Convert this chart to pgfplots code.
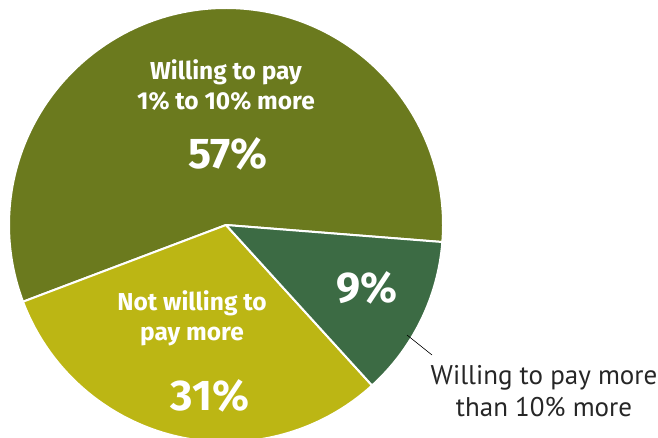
\documentclass[border=0pt]{standalone}
\usepackage{pgfplots}
\pgfplotsset{compat=1.18}
\usepackage{fontspec}
\setmainfont{Fira Sans}
\setsansfont{Fira Sans}
\newfontfamily\calloutfont{PT Sans}

\definecolor{olivec}{HTML}{6B7A1E}
\definecolor{yellowc}{HTML}{BCB614}
\definecolor{greenc}{HTML}{3C6B44}

% plotted shares (the small slice is drawn as the remainder, 100-57-31)
\def\slices{57/olivec, 31/yellowc, 12/greenc}

\begin{document}
\begin{tikzpicture}
\begin{axis}[
    scale only axis,
    width=658pt, height=437pt,
    xmin=0, xmax=658, ymin=0, ymax=437,
    hide axis,
    clip=true,
  ]
  \pgfmathsetmacro{\cur}{-4.5}
  \foreach \v/\c in \slices {
    \pgfmathsetmacro{\nxt}{\cur+3.6*\v}
    \edef\temp{\noexpand\filldraw[fill=\c, draw=white, line width=2pt, line join=round]
      (axis cs:226,212) -- ++(\cur:217pt) arc[start angle=\cur, end angle=\nxt, radius=217pt] -- cycle;}
    \temp
    \global\let\cur\nxt
  }
  \draw[black, line width=0.6pt] (axis cs:407,102) -- (axis cs:432,82);

  \begin{scope}[every node/.style={text=white, align=center}]
    \node[font=\bfseries\fontsize{24.5}{30}\selectfont] at (axis cs:226,352) {Willing to pay\\1\% to 10\% more};
    \node[font=\bfseries\fontsize{43}{43}\selectfont] at (axis cs:228,283) {57\%};
    \node[font=\bfseries\fontsize{24.5}{30}\selectfont] at (axis cs:192,119) {Not willing to\\pay more};
    \node[font=\bfseries\fontsize{43}{43}\selectfont] at (axis cs:210,41) {31\%};
    \node[font=\bfseries\fontsize{43}{43}\selectfont] at (axis cs:367,149) {9\%};
  \end{scope}
  \node[text=black!85, align=center, font=\calloutfont\fontsize{27}{32}\selectfont] at (axis cs:544,46) {Willing to pay more\\than 10\% more};
\end{axis}
\pgfresetboundingbox
\path (current axis.south west) rectangle (current axis.north east);
\end{tikzpicture}
\end{document}
